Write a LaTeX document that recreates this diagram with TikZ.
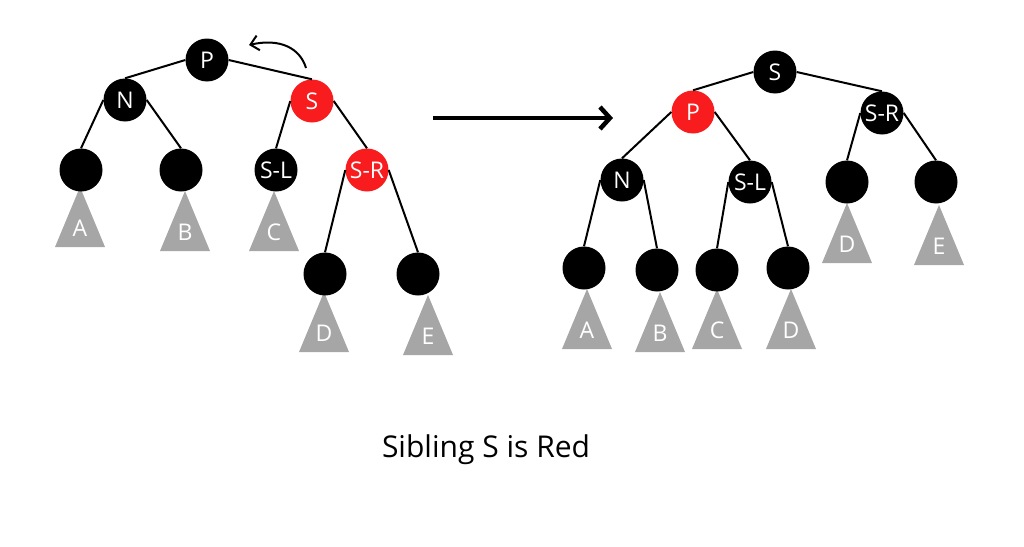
\documentclass[tikz,border=0pt]{standalone}
\usepackage{fontspec}
\setmainfont{Open Sans}
\usetikzlibrary{arrows.meta}
\definecolor{rbred}{RGB}{248,28,30}
\definecolor{subgray}{RGB}{166,166,166}

\begin{document}
\begin{tikzpicture}[x=1pt,y=-1pt,
  blk/.style={circle,fill=black,minimum size=43pt,inner sep=0pt,text=white,font=\fontsize{23}{23}\selectfont},
  redn/.style={blk,fill=rbred},
  edge/.style={line width=2pt},
  tlabel/.style={text=white,inner sep=0pt,font=\fontsize{23}{23}\selectfont}]

\useasboundingbox (0,0) rectangle (1024,546);

% Subtrees (gray triangles, drawn first so the circles sit on top)
\foreach \x/\y/\t/\n in {80/247/A/la, 185/251/B/lb, 274/251/C/lc, 324/352/D/ld, 428/355/E/le,
                         847/263/D/rd, 939/265/E/re, 587/349/A/ra, 660/352/B/rb, 717/349/C/rc, 791/349/D/rdd} {
  \fill[subgray] (\x-25,\y) -- (\x,\y-60) -- (\x+25,\y) -- cycle;
  \node[tlabel] (t\n) at (\x,\y-19) {\t};
}

% Left tree (before rotation)
\node[blk] (lp) at (207,60) {P};
\node[blk] (ln) at (125,100) {N};
\node[redn] (ls) at (312,101) {S};
\node[blk] (lla) at (81,170) {};
\node[blk] (llb) at (181,170) {};
\node[blk] (lsl) at (276,170) {S-L};
\node[redn] (lsr) at (367,170) {S-R};
\node[blk] (lld) at (325,274) {};
\node[blk] (lle) at (418,274) {};

\foreach \a/\b in {lp.west/ln, lp.east/ls, ln.west/lla, ln.east/llb,
                   ls.west/lsl, ls.east/lsr, lsr.west/lld, lsr.east/lle}
  \draw[edge] (\a) -- (\b.north);

% Rotation hint
\coordinate (rotA) at (306,68);
\coordinate (rotB) at (249,45);
\draw[line width=2pt,-{Straight Barb[length=8pt,width=15pt]}] (rotA) .. controls (300,48) and (280,38) .. (rotB);

% Right tree (after rotation)
\node[blk] (rs) at (775,72) {S};
\node[redn] (rp) at (693,112) {P};
\node[blk] (rsr) at (882,113) {S-R};
\node[blk] (rn) at (622,180) {N};
\node[blk] (rsl) at (750,182) {S-L};
\node[blk] (rrd) at (847,182) {};
\node[blk] (rre) at (936,182) {};
\node[blk] (rra) at (584,268) {};
\node[blk] (rrb) at (657,270) {};
\node[blk] (rrc) at (717,270) {};
\node[blk] (rrdd) at (788,268) {};

\foreach \a/\b in {rs.west/rp, rs.east/rsr, rp.west/rn, rp.east/rsl,
                   rsr.west/rrd, rsr.east/rre, rn.west/rra, rn.east/rrb,
                   rsl.west/rrc, rsl.east/rrdd}
  \draw[edge] (\a) -- (\b.north);

% Transition arrow
\coordinate (arrA) at (433,118);
\coordinate (arrB) at (613,118);
\draw[line width=4.5pt,-{Straight Barb[length=10pt,width=22pt]}] (arrA) -- (arrB);

% Caption
\node[font=\fontsize{30}{30}\selectfont] (cap) at (486,450) {Sibling S is Red};

\end{tikzpicture}
\end{document}
